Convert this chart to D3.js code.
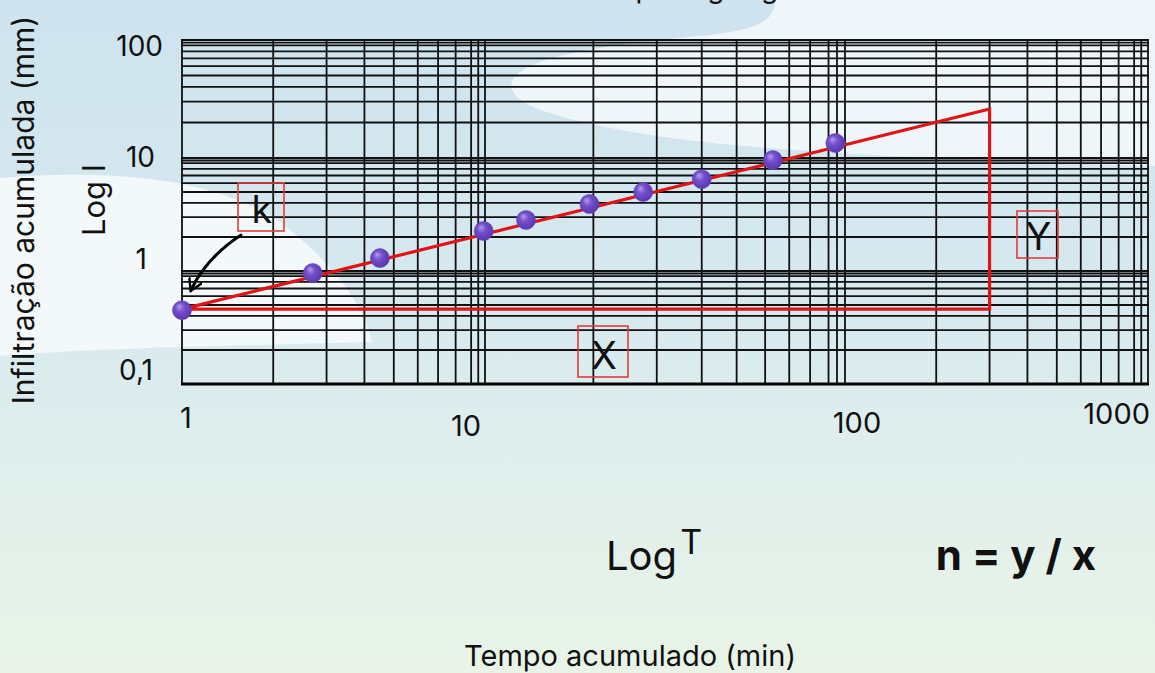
<!DOCTYPE html>
<html>
<head>
<meta charset="utf-8">
<script src="https://cdn.jsdelivr.net/npm/d3@7"></script>
<style>
  body { margin: 0; background: #e6f1ea; }
  svg { display: block; font-family: Inter, "Noto Sans", sans-serif; }
</style>
</head>
<body>
<svg id="chart" width="1155" height="673"></svg>
<script>
const tempoMin = [1, 2.7, 4.5, 9.9, 13, 19.5, 27.5, 40, 63, 94];
const infiltracao = [0.45, 0.96, 1.3, 2.26, 2.83, 3.92, 5.0, 6.5, 9.6, 13.4];
const xTickValues = [1, 10, 100, 1000];
const xTickLabels = ['1', '10', '100', '1000'];
const yTickValues = [0.1, 1, 10, 100];
const yTickLabels = ['0,1', '1', '10', '100'];
const retaInicio = [1, 0.46];   // [T, I]
const retaFim = [300, 26];

const svg = d3.select('#chart');
const W = 1155, H = 673;

// escalas (papel impresso, decadas um pouco desiguais)
const x = d3.scaleLog().domain(xTickValues).range([182, 485, 845, 1148]);
const y = d3.scaleLog().domain(yTickValues).range([384, 271, 158, 40]);

const defs = svg.append('defs');
let bg = defs.append('linearGradient').attr('id', 'bg')
    .attr('x1', 0).attr('y1', 0).attr('x2', 0).attr('y2', 1);
bg.append('stop').attr('offset', '0%').attr('stop-color', '#cee3ee');
bg.append('stop').attr('offset', '45%').attr('stop-color', '#d7e9ef');
bg.append('stop').attr('offset', '65%').attr('stop-color', '#dfeeed');
bg.append('stop').attr('offset', '100%').attr('stop-color', '#e9f4e7');

let ball = defs.append('radialGradient').attr('id', 'ball')
    .attr('cx', '45%').attr('cy', '45%').attr('r', '60%')
    .attr('fx', '35%').attr('fy', '30%');
ball.append('stop').attr('offset', '0%').attr('stop-color', '#b39ceb');
ball.append('stop').attr('offset', '40%').attr('stop-color', '#7550cc');
ball.append('stop').attr('offset', '100%').attr('stop-color', '#5733ad');

defs.append('marker').attr('id', 'seta')
    .attr('viewBox', '0 0 10 10').attr('refX', 8).attr('refY', 5)
    .attr('markerWidth', 5).attr('markerHeight', 5)
    .attr('markerUnits', 'strokeWidth')
    .attr('orient', 'auto')
    .append('path').attr('d', 'M1,0.5 L8.5,5 L1,9.5')
    .attr('fill', 'none').attr('stroke', '#000').attr('stroke-width', 1.6)
    .attr('stroke-linecap', 'round');

// fundo
svg.append('rect').attr('width', W).attr('height', H).attr('fill', 'url(#bg)');
svg.append('path')
    .attr('d', 'M775,0 L1155,0 L1155,166 C950,160 760,152 650,135 C560,120 505,105 512,82 C520,58 600,45 700,36 C760,30 775,20 775,0 Z')
    .attr('fill', '#eff6fa');
svg.append('path')
    .attr('d', 'M0,178 C120,168 230,180 290,230 C340,270 365,310 372,342 C250,345 100,348 0,356 Z')
    .attr('fill', '#f3f8fa');

// titulo (cortado no topo, como no original)
svg.append('text').attr('x', 690).attr('y', -2).attr('text-anchor', 'middle')
    .attr('font-size', 28).attr('fill', '#111').text('Papel log-log');

// grade
let gridX = [], gridY = [];
[1, 10, 100].forEach(d => {
    d3.range(1, 10).forEach(k => gridX.push(d * k));
    gridX.push(d * 9.5);
});
gridX.push(1000);
[0.1, 1, 10].forEach(d => {
    d3.range(1, 10).forEach(k => gridY.push(d * k));
    gridY.push(d * 9.5);
});
gridY.push(100);

let [x0, x1] = [x(1), x(1000)];
let [yb, yt] = [y(0.1), y(100)];
let grid = svg.append('g').attr('stroke', '#111').attr('stroke-width', 1.8);
grid.selectAll('.gx').data(gridX).join('line')
    .attr('x1', d => x(d)).attr('x2', d => x(d))
    .attr('y1', yt - 1).attr('y2', yb + 1);
grid.selectAll('.gy').data(gridY).join('line')
    .attr('y1', d => y(d)).attr('y2', d => y(d))
    .attr('x1', x0 - 1).attr('x2', x1 + 1);
svg.append('line').attr('x1', x0 - 1).attr('x2', x1 + 1)
    .attr('y1', yb).attr('y2', yb)
    .attr('stroke', '#000').attr('stroke-width', 3);

// rotulos dos eixos (posicoes como no original)
const xNudge = [{ a: 'start', dx: -2, dy: 44 }, { a: 'middle', dx: -19, dy: 52 },
    { a: 'middle', dx: 12, dy: 49 }, { a: 'end', dx: 2, dy: 40 }];
svg.append('g').selectAll('text').data(xTickValues).join('text')
    .attr('x', (d, i) => x(d) + xNudge[i].dx)
    .attr('y', (d, i) => yb + xNudge[i].dy)
    .attr('text-anchor', (d, i) => xNudge[i].a)
    .attr('font-size', 29).attr('fill', '#111')
    .text((d, i) => xTickLabels[i]);

const yNudge = [{ x: 153, dy: -4 }, { x: 147, dy: -2 }, { x: 155, dy: 9 }, { x: 163, dy: 16 }];
svg.append('g').selectAll('text').data(yTickValues).join('text')
    .attr('x', (d, i) => yNudge[i].x)
    .attr('y', (d, i) => y(d) + yNudge[i].dy)
    .attr('text-anchor', 'end')
    .attr('font-size', 28).attr('fill', '#111')
    .text((d, i) => yTickLabels[i]);

svg.append('text')
    .attr('transform', 'translate(34,210) rotate(-90)')
    .attr('text-anchor', 'middle').attr('font-size', 30).attr('fill', '#111')
    .text('Infiltração acumulada (mm)');
svg.append('text')
    .attr('transform', 'translate(105,200) rotate(-90)')
    .attr('text-anchor', 'middle').attr('font-size', 31).attr('fill', '#111')
    .text('Log I');
svg.append('text').attr('x', 630).attr('y', 666).attr('text-anchor', 'middle')
    .attr('font-size', 29).attr('fill', '#111').text('Tempo acumulado (min)');

let logT = svg.append('text').attr('x', 606).attr('y', 570)
    .attr('font-size', 40).attr('fill', '#111');
logT.append('tspan').text('Log');
logT.append('tspan').attr('dx', 3).attr('dy', -16).attr('font-size', 34).text('T');
svg.append('text').attr('x', 1016).attr('y', 570).attr('text-anchor', 'middle')
    .attr('font-size', 42).attr('font-weight', 700).attr('fill', '#111')
    .text('n = y / x');

// triangulo vermelho (reta ajustada, x e y)
let p0 = [x(retaInicio[0]), y(retaInicio[1])];
let p1 = [x(retaFim[0]), y(retaFim[1])];
let p2 = [x(retaFim[0]), y(retaInicio[1])];
svg.append('path')
    .attr('d', d3.line()([p0, p1, p2, p0]))
    .attr('fill', 'none').attr('stroke', '#e01414').attr('stroke-width', 3.2)
    .attr('stroke-linejoin', 'miter');

// caixas de anotacao
const caixas = [
    { t: 'k', x: 238, y: 183, w: 46, h: 48 },
    { t: 'X', x: 578, y: 326, w: 50, h: 51 },
    { t: 'Y', x: 1017, y: 211, w: 41, h: 47 },
];
caixas.forEach(c => {
    svg.append('rect').attr('x', c.x).attr('y', c.y).attr('width', c.w).attr('height', c.h)
        .attr('fill', 'none').attr('stroke', '#e53a3a').attr('stroke-width', 1.6);
    svg.append('text').attr('x', c.x + c.w / 2 + 1).attr('y', c.y + c.h - 8)
        .attr('text-anchor', 'middle').attr('font-size', 38).attr('fill', '#111')
        .text(c.t);
});

// seta do k
svg.append('path')
    .attr('d', `M241,235 Q206,258 ${p0[0] + 9},${p0[1] - 19}`)
    .attr('fill', 'none').attr('stroke', '#000').attr('stroke-width', 3)
    .attr('stroke-linecap', 'round')
    .attr('marker-end', 'url(#seta)');

// pontos medidos
svg.append('g').selectAll('circle').data(tempoMin).join('circle')
    .attr('cx', d => x(d))
    .attr('cy', (d, i) => y(infiltracao[i]))
    .attr('r', 9.5)
    .attr('fill', 'url(#ball)')
    .attr('stroke', '#6a45c0').attr('stroke-width', 0.6);
</script>
</body>
</html>
